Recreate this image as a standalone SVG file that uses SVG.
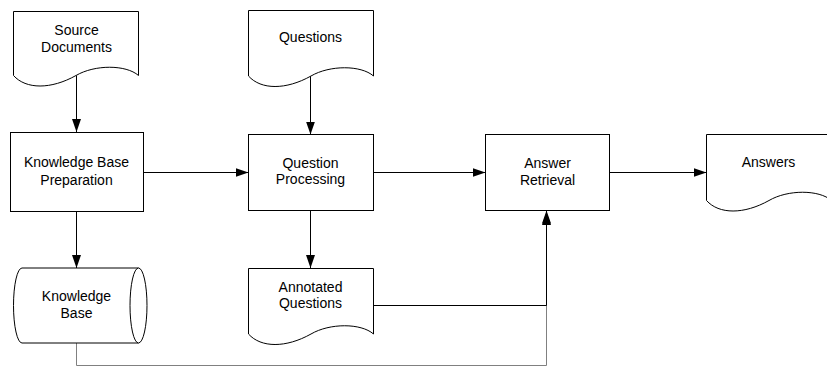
<svg xmlns="http://www.w3.org/2000/svg" width="827" height="367" viewBox="0 0 827 367">
<style>
.shape{fill:#fff;stroke:#000;stroke-width:1}
.lbl{font-family:"Liberation Sans",Arial,sans-serif;font-size:14px;fill:#000;text-anchor:middle}
.conn{fill:none;stroke:#000;stroke-width:1}
.conn2{fill:none;stroke:#808080;stroke-width:1}
</style>
<defs>
<marker id="ah" markerUnits="userSpaceOnUse" markerWidth="14" markerHeight="10" refX="13" refY="4.5" orient="auto">
<path d="M0,0 L13,4.5 L0,9 Z" fill="#000"/>
</marker>
</defs>
<rect width="827" height="367" fill="#fff"/>
<g id="connectors">
<path class="conn2" d="M76.5,343 V365.5 H546.5 V212" marker-end="url(#ah)"/>
<path class="conn" d="M76.5,75.5 V132" marker-end="url(#ah)"/>
<path class="conn" d="M310.5,76 V134.5" marker-end="url(#ah)"/>
<path class="conn" d="M143.5,172.5 H248.5" marker-end="url(#ah)"/>
<path class="conn" d="M76.5,211.5 V268" marker-end="url(#ah)"/>
<path class="conn" d="M310.5,210.5 V268" marker-end="url(#ah)"/>
<path class="conn" d="M373.5,172.5 H485.5" marker-end="url(#ah)"/>
<path class="conn" d="M609.5,172.5 H706.5" marker-end="url(#ah)"/>
<path class="conn" d="M373.5,305.5 H546.5 V210.5" marker-end="url(#ah)"/>
</g>
<g id="source-documents">
<path class="shape" d="M13.5,11.5 H138.5 V75.5 C126,64.5 94.75,64.5 76,75.5 C51,89.5 26,89.5 13.5,75.5 Z"/>
<text class="lbl" x="76.5" y="35">Source</text>
<text class="lbl" x="76.5" y="52">Documents</text>
</g>
<g id="kb-preparation">
<rect class="shape" x="10.5" y="132.5" width="133" height="79"/>
<text class="lbl" x="76.5" y="167">Knowledge Base</text>
<text class="lbl" x="76.5" y="184.5">Preparation</text>
</g>
<g id="knowledge-base">
<path class="shape" d="M22,268 H138.5 A8.5,37.5 0 0 1 138.5,343 H22 A8.5,37.5 0 0 1 22,268 Z"/>
<path class="shape" fill="none" d="M138.5,268 A8.5,37.5 0 0 0 138.5,343"/>
<text class="lbl" x="76.5" y="301">Knowledge</text>
<text class="lbl" x="76.5" y="318">Base</text>
</g>
<g id="questions">
<path class="shape" d="M248.5,10.5 H373.5 V76 C361,65 329.75,65 311,76 C286,90 261,90 248.5,76 Z"/>
<text class="lbl" x="310.5" y="41.5">Questions</text>
</g>
<g id="question-processing">
<rect class="shape" x="248.5" y="134.5" width="125" height="76"/>
<text class="lbl" x="310.5" y="168">Question</text>
<text class="lbl" x="310.5" y="184">Processing</text>
</g>
<g id="annotated-questions">
<path class="shape" d="M248.5,268.5 H373.5 V334 C361,323 329.75,323 311,334 C286,348 261,348 248.5,334 Z"/>
<text class="lbl" x="310.5" y="292">Annotated</text>
<text class="lbl" x="310.5" y="308">Questions</text>
</g>
<g id="answer-retrieval">
<rect class="shape" x="485.5" y="134.5" width="124" height="76"/>
<text class="lbl" x="547.5" y="168">Answer</text>
<text class="lbl" x="547.5" y="184.5">Retrieval</text>
</g>
<g id="answers">
<path class="shape" d="M706.5,134.5 H831.5 V200.5 C819,189.5 787.75,189.5 769,200.5 C744,214.5 719,214.5 706.5,200.5 Z"/>
<text class="lbl" x="768.5" y="167">Answers</text>
</g>
</svg>
